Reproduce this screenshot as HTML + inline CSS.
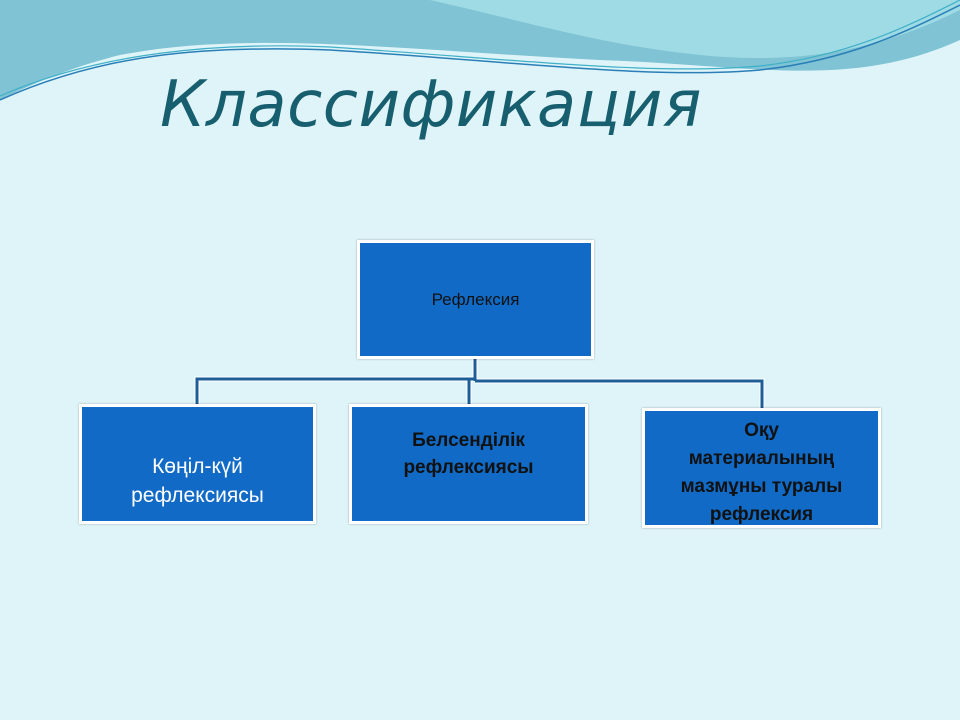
<!DOCTYPE html>
<html><head><meta charset="utf-8"><style>
body{margin:0;width:960px;height:720px;overflow:hidden;background:#dff4f8;font-family:"Liberation Sans",sans-serif;position:relative}
.b{position:absolute;background:#116ac5;border:3px solid #fff;box-sizing:border-box;display:flex;align-items:center;justify-content:center;text-align:center;box-shadow:0 0 2px rgba(0,0,0,.3)}
.t{position:absolute;left:160px;top:68px;font-size:64px;font-style:italic;color:#175f6f;letter-spacing:0.5px;font-family:"DejaVu Sans","Liberation Sans",sans-serif}
</style></head><body>
<svg width="960" height="720" style="position:absolute;left:0;top:0">
<path d="M0 0 H960 V40 C850 90 750 65 600 60 C400 50 250 30 120 55 C60 70 20 90 0 100 Z" fill="#7fc3d4"/>
<path d="M430 0 H960 V10 C880 50 800 65 700 55 C600 45 520 20 430 0 Z" fill="#9fdbe4"/>
<path d="M0 100 C100 55 200 45 330 50 C500 60 650 80 760 70 C850 60 910 30 960 5" fill="none" stroke="#2a7fb8" stroke-width="1.5"/>
<path d="M0 96 C100 52 220 42 330 47 C500 58 650 76 760 66 C850 56 910 25 960 0" fill="none" stroke="#3fb0c8" stroke-width="1.2"/>
<g stroke="#fff" stroke-width="5" fill="none"><path d="M475 358V381M197 405V379H475M469 379V405M475 381H762V409"/></g>
<g stroke="#1d5e98" stroke-width="3" fill="none"><path d="M475 358V381M197 405V379H475M469 379V405M475 381H762V409"/></g>
</svg>
<div class="t">Классификация</div>
<div class="b" style="left:357px;top:240px;width:237px;height:119px;color:#111;font-size:17px">Рефлексия</div>
<div class="b" style="left:79px;top:404px;width:237px;height:120px;color:#fff;font-size:21px;line-height:29px;padding-top:34px">Көңіл-күй<br>рефлексиясы</div>
<div class="b" style="left:349px;top:404px;width:239px;height:120px;color:#111;font-size:19px;font-weight:bold;line-height:27px;padding-bottom:20px">Белсенділік<br>рефлексиясы</div>
<div class="b" style="left:642px;top:408px;width:239px;height:120px;color:#111;font-size:19px;font-weight:bold;line-height:28px;padding-top:10px">Оқу<br>материалының<br>мазмұны туралы<br>рефлексия</div>
</body></html>
